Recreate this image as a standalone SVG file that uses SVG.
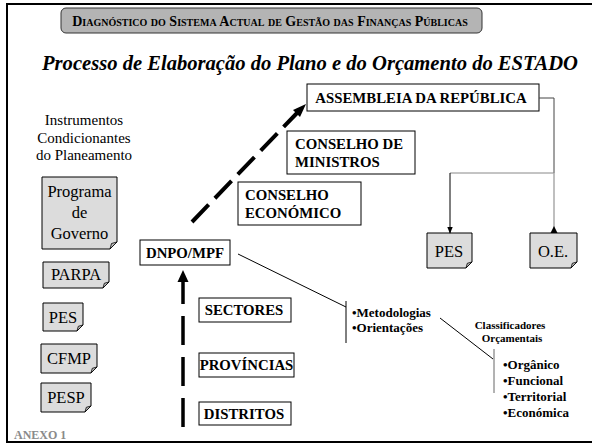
<svg xmlns="http://www.w3.org/2000/svg" width="592" height="445" viewBox="0 0 592 445" font-family="'Liberation Serif', 'DejaVu Serif', serif">
<style>
text{font-family:"Liberation Serif","DejaVu Serif",serif}
.box{fill:#fff;stroke:#000;stroke-width:1}
.note{fill:#dcdcdc;stroke:#000;stroke-width:1}
.fold{fill:#bbb;stroke:#000;stroke-width:0.8}
.bt{font-weight:bold;font-size:14.8px;fill:#000}
.nt{font-size:16.5px;fill:#000;text-anchor:middle}
.bl{font-weight:bold;font-size:13px;fill:#000}
.cl{font-weight:bold;font-size:11px;fill:#000;text-anchor:middle}
</style>
<defs>
<marker id="sa" viewBox="0 0 10 10" refX="9" refY="5" markerWidth="7" markerHeight="7" markerUnits="userSpaceOnUse" orient="auto">
<path d="M0,1 L10,5 L0,9 Z" fill="#000"/>
</marker>
</defs>
<rect x="0" y="0" width="592" height="445" fill="#fff"/>
<rect x="7" y="4" width="600" height="438" fill="none" stroke="#000" stroke-width="2"/>

<g id="header">
<rect x="61" y="8" width="421" height="25" rx="5" fill="#b4b4b4" stroke="#333" stroke-width="1"/>
<text x="270" y="26" font-size="14" font-weight="bold" text-anchor="middle" style="font-variant:small-caps">Diagnóstico do Sistema Actual de Gestão das Finanças Públicas</text>
</g>
<g id="title">
<text x="310" y="70" font-size="20.6" font-weight="bold" font-style="italic" text-anchor="middle">Processo de Elaboração do Plano e do Orçamento do ESTADO</text>
</g>

<g id="instrumentos">
<text font-size="15" text-anchor="middle"><tspan x="84" y="125">Instrumentos</tspan><tspan x="84" y="142.5">Condicionantes</tspan><tspan x="84" y="160">do Planeamento</tspan></text>
</g>

<g id="programa">
<path class="note" d="M42,177 H117 V242 L110,249 H42 Z"/>
<path class="fold" d="M117,242 L110,249 L111.5,243.5 Z"/>
<text class="nt"><tspan x="79.5" y="197">Programa</tspan><tspan x="79.5" y="218">de</tspan><tspan x="79.5" y="239">Governo</tspan></text>
</g>
<g id="parpa">
<path class="note" d="M43,262 H109 V282 L103,288 H43 Z"/>
<path class="fold" d="M109,282 L103,288 L104.3,283.3 Z"/>
<text class="nt" x="76" y="280">PARPA</text>
</g>
<g id="pes-left">
<path class="note" d="M43,303 H83 V325 L77,331 H43 Z"/>
<path class="fold" d="M83,325 L77,331 L78.3,326.3 Z"/>
<text class="nt" x="63" y="323">PES</text>
</g>
<g id="cfmp">
<path class="note" d="M41,344 H97 V367 L91,373 H41 Z"/>
<path class="fold" d="M97,367 L91,373 L92.3,368.3 Z"/>
<text class="nt" x="69" y="364">CFMP</text>
</g>
<g id="pesp">
<path class="note" d="M41,383 H91 V406 L85,412 H41 Z"/>
<path class="fold" d="M91,406 L85,412 L86.3,407.3 Z"/>
<text class="nt" x="66" y="403">PESP</text>
</g>

<g id="assembleia">
<rect class="box" x="307" y="84" width="232" height="27"/>
<text class="bt" x="421" y="103" text-anchor="middle">ASSEMBLEIA DA REPÚBLICA</text>
</g>
<g id="ministros">
<rect class="box" x="287" y="131" width="128" height="43"/>
<text class="bt"><tspan x="295" y="149">CONSELHO DE</tspan><tspan x="295" y="167">MINISTROS</tspan></text>
</g>
<g id="economico">
<rect class="box" x="238" y="182" width="123" height="43"/>
<text class="bt"><tspan x="245" y="200">CONSELHO</tspan><tspan x="245" y="218">ECONÓMICO</tspan></text>
</g>
<g id="dnpo">
<rect class="box" x="140" y="240" width="90" height="25"/>
<text class="bt" x="185" y="258" text-anchor="middle">DNPO/MPF</text>
</g>
<g id="sectores">
<rect class="box" x="199" y="298" width="92" height="24"/>
<text class="bt" x="244" y="315" text-anchor="middle">SECTORES</text>
</g>
<g id="provincias">
<rect class="box" x="199" y="353" width="95" height="24"/>
<text class="bt" x="246.5" y="370" text-anchor="middle">PROVÍNCIAS</text>
</g>
<g id="distritos">
<rect class="box" x="199" y="402" width="92" height="23"/>
<text class="bt" x="244" y="419" text-anchor="middle">DISTRITOS</text>
</g>

<g id="pes-right">
<path class="note" d="M427,233 H472 V262 L466,268 H427 Z"/>
<path class="fold" d="M472,262 L466,268 L467.3,263.3 Z"/>
<text class="nt" x="449" y="257" font-size="18">PES</text>
</g>
<g id="oe">
<path class="note" d="M530,233 H577 V262 L571,268 H530 Z"/>
<path class="fold" d="M577,262 L571,268 L572.3,263.3 Z"/>
<text class="nt" x="553" y="257" font-size="18">O.E.</text>
</g>

<g id="lists">
<text class="bl"><tspan x="352" y="317">•Metodologias</tspan><tspan x="352" y="332">•Orientações</tspan></text>
<text class="cl"><tspan x="510" y="329">Classificadores</tspan><tspan x="512" y="342">Orçamentais</tspan></text>
<text class="bl"><tspan x="503" y="369">•Orgânico</tspan><tspan x="503" y="385">•Funcional</tspan><tspan x="503" y="401">•Territorial</tspan><tspan x="503" y="417">•Económica</tspan></text>
</g>

<g id="anexo">
<text x="14" y="439" font-size="12" font-weight="bold" fill="#8a8a8a">ANEXO 1</text>
</g>

<g id="connectors" fill="none">
<line x1="192" y1="222" x2="298" y2="112" stroke="#000" stroke-width="4" stroke-dasharray="24 9"/>
<path d="M306,104 L293,110 L300,117 Z" fill="#000"/>
<line x1="183" y1="427" x2="183" y2="282" stroke="#000" stroke-width="3.5" stroke-dasharray="29 12"/>
<path d="M183,270 L177.5,282 L188.5,282 Z" fill="#000"/>
<path d="M539,98 H554 V173" stroke="#444" stroke-width="1"/>
<path d="M554,173 H450" stroke="#888" stroke-width="1"/>
<path d="M450,173 V233" stroke="#000" stroke-width="1" marker-end="url(#sa)"/>
<path d="M554,173 V233" stroke="#aaa" stroke-width="1.5"/>
<path d="M554,226 L550.5,233 L557.5,233 Z" fill="#000"/>
<line x1="238" y1="254" x2="346" y2="307" stroke="#000" stroke-width="1"/>
<line x1="346" y1="301" x2="346" y2="343" stroke="#000" stroke-width="1"/>
<line x1="440" y1="318" x2="493" y2="359" stroke="#000" stroke-width="1"/>
<line x1="494" y1="349" x2="494" y2="393" stroke="#666" stroke-width="1"/>
</g>
</svg>
